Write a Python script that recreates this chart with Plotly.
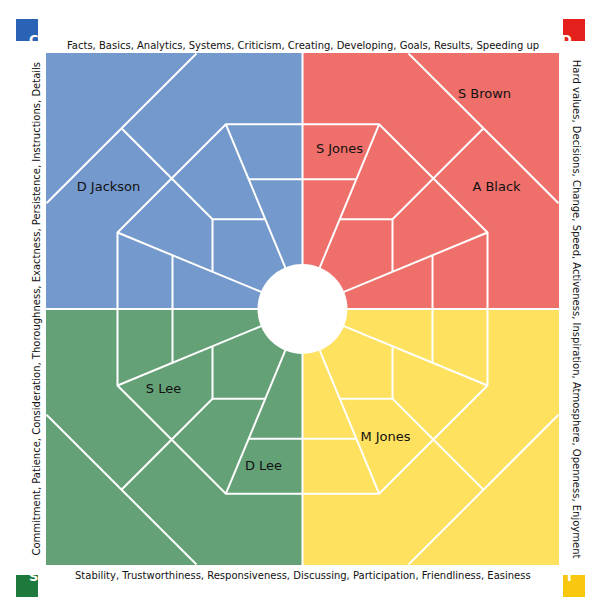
import math
import plotly.graph_objects as go

# quadrant data: (sign x, sign y, fill colour)
quad_signs = [(-1, 1), (1, 1), (1, -1), (-1, -1)]
quad_colors = ["#7499CC", "#EF6F6A", "#FEE15F", "#65A177"]

badge_letters = ["C", "D", "I", "S"]
badge_colors = ["#2A63B6", "#E3201B", "#F9C80E", "#1E7A3C"]

top_text = "Facts, Basics, Analytics, Systems, Criticism, Creating, Developing, Goals, Results, Speeding up"
bottom_text = "Stability, Trustworthiness, Responsiveness, Discussing, Participation, Friendliness, Easiness"
left_text = "Commitment, Patience, Consideration, Thoroughness, Exactness, Persistence, Instructions, Details"
right_text = "Hard values, Decisions, Change, Speed, Activeness, Inspiration, Atmosphere, Openness, Enjoyment"

names = ["D Jackson", "S Jones", "S Brown", "A Black", "M Jones", "D Lee", "S Lee"]
name_x = [-194, 37, 182, 194, 83, -39, -139]
name_y = [121, 160, 215, 121, -129, -158, -81]

HALF = 256.5
OUTER = 256
INNER = 185
MID = 90
RING = 130
HOLE = 45
t = math.tan(math.pi / 8)

# one quadrant of the web, in (u, v) with both pointing outward
segs = [
    [(OUTER, OUTER * t), (OUTER * t, OUTER)],
    [(0, INNER), (INNER * t, INNER), (INNER, INNER * t), (INNER, 0)],
    [(INNER * t, INNER), (HOLE * t * 0.8, HOLE * 0.8)],
    [(INNER, INNER * t), (HOLE * 0.8, HOLE * t * 0.8)],
    [(MID, MID), (OUTER / math.sqrt(2), OUTER / math.sqrt(2))],
    [(MID * t, MID), (MID, MID), (MID, MID * t)],
    [(0, RING), (RING * t, RING)],
    [(RING, 0), (RING, RING * t)],
]

fig = go.Figure()

for (sx, sy), col in zip(quad_signs, quad_colors):
    fig.add_shape(type="rect", x0=0, y0=0, x1=sx * HALF, y1=sy * HALF,
                  fillcolor=col, line_width=0, layer="below")

lx, ly = [], []
for sx, sy in quad_signs:
    for seg in segs:
        for u, v in seg:
            lx.append(sx * u)
            ly.append(sy * v)
        lx.append(None)
        ly.append(None)
lx += [0, 0, None, -HALF, HALF]
ly += [-HALF, HALF, None, 0, 0]
fig.add_trace(go.Scatter(x=lx, y=ly, mode="lines", line=dict(color="white", width=2),
                         hoverinfo="skip", showlegend=False))

fig.add_trace(go.Scatter(x=name_x, y=name_y, mode="text", text=names,
                         textfont=dict(family="DejaVu Sans", size=13, color="#111"),
                         showlegend=False))

fig.add_shape(type="circle", x0=-HOLE, y0=-HOLE, x1=HOLE, y1=HOLE,
              fillcolor="white", line_width=0)

# side texts
txt = dict(family="DejaVu Sans", size=10, color="#111")
fig.add_annotation(text=top_text, x=0.5, y=1.03, xref="paper", yref="paper",
                   showarrow=False, font=txt)
fig.add_annotation(text=bottom_text, x=0.5, y=-0.035, xref="paper", yref="paper",
                   showarrow=False, font=txt)
fig.add_annotation(text=left_text, x=-0.035, y=0.5, xref="paper", yref="paper",
                   showarrow=False, font=txt, textangle=-90)
fig.add_annotation(text=right_text, x=1.05, y=0.5, xref="paper", yref="paper",
                   showarrow=False, font=txt, textangle=90)

# corner badges
badge_pos = [(19, 22), (566, 22), (566, 578), (19, 578)]
W, H = 596, 607
for (px, py), letter, col in zip(badge_pos, badge_letters, badge_colors):
    x0, x1 = px / W, (px + 0) / W
    fig.add_shape(type="rect", xref="paper", yref="paper",
                  x0=(px - 10 - 38) / 513, x1=(px + 10 - 38) / 513,
                  y0=(557 - py - 10) / 512, y1=(557 - py + 10) / 512,
                  fillcolor=col, line=dict(color=col, width=2))
    fig.add_annotation(text="<b>" + letter + "</b>", xref="paper", yref="paper",
                       x=(px - 38) / 513, y=(557 - py) / 512, showarrow=False,
                       font=dict(family="DejaVu Sans", size=13, color="white"))

fig.update_xaxes(range=[-HALF, HALF], visible=False, fixedrange=True)
fig.update_yaxes(range=[-HALF, HALF], visible=False, fixedrange=True)
fig.update_layout(width=W, height=H, margin=dict(l=38, r=45, t=45, b=50),
                  plot_bgcolor="white", paper_bgcolor="white")

fig.write_html("out.html")
